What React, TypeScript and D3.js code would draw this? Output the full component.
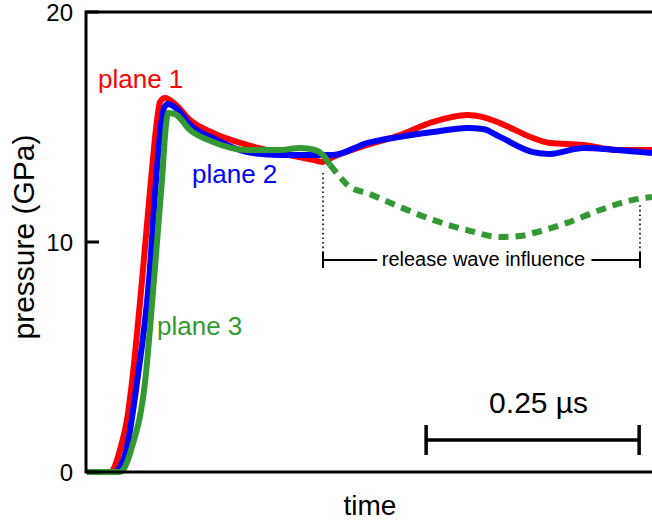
import React from "react";
import * as d3 from "d3";

// time in ns, pressure in GPa
const plane1: [number, number][] = [
  [0, 0], [27, 0], [30.5, 0.09], [38.7, 0.96], [46.9, 2.26], [52.8, 3.91], [64.6, 8.35],
  [75.1, 12.7], [82.2, 15.3], [85.7, 16.09], [91.5, 16.26], [103.3, 16.0], [120.9, 15.3],
  [147.9, 14.74], [187.8, 14.22], [226.5, 13.87], [265.3, 13.57], [275.8, 13.48], [288.7, 13.7],
  [328.6, 14.22], [367.4, 14.65], [406.1, 15.22], [446, 15.52], [464.8, 15.43], [484.7, 15.17],
  [523.5, 14.52], [543.4, 14.3], [582.2, 14.22], [622, 14.0], [663.1, 14.0],
];
const plane2: [number, number][] = [
  [0, 0], [32.9, 0], [36.4, 0.09], [46.9, 1.09], [58.7, 3.91], [72.8, 8.35], [81, 12.7],
  [86.9, 15.09], [90.4, 15.83], [95.1, 16.0], [106.8, 15.74], [120.9, 15.09], [147.9, 14.52],
  [187.8, 13.91], [226.5, 13.78], [265.3, 13.78], [288.7, 13.78], [328.6, 14.3], [367.4, 14.57],
  [406.1, 14.78], [446, 14.96], [464.8, 14.91], [484.7, 14.57], [523.5, 13.91], [543.4, 13.83],
  [582.2, 14.09], [622, 14.0], [663.1, 13.87],
];
const plane3Solid: [number, number][] = [
  [0, 0], [38.7, 0], [42.3, 0.09], [52.8, 1.09], [68.1, 3.91], [78.6, 8.35], [88, 12.7],
  [92.7, 15.09], [95.1, 15.61], [103.3, 15.56], [120.9, 14.87], [147.9, 14.35], [187.8, 14.0],
  [226.5, 14.0], [250, 14.09], [267.6, 14.0], [277, 13.78], [285.2, 13.35],
];
const plane3Dashed: [number, number][] = [
  [285.2, 13.35], [296.9, 12.83], [308.7, 12.39], [328.6, 12.13], [367.4, 11.52], [406.1, 10.96],
  [446, 10.52], [484.7, 10.22], [508.2, 10.26], [523.5, 10.39], [563.4, 10.83], [602.1, 11.39],
  [640.8, 11.83], [663.1, 11.96],
];
const yTicks = [0, 10, 20];
const releaseStart = 277;
const releaseEnd = 649;
const releaseTopLeft = 13.0;
const releaseTopRight = 11.6;
const releaseLevel = 9.22;
const scaleBarStart = 398;
const scaleBarLength = 250;
const scaleBarLevel = 1.39;

const W = 652;
const H = 525;
const left = 86;
const top = 12;
const bottom = 472;
const right = 652;

export default function App() {
  const x = d3.scaleLinear().domain([0, 663.1]).range([left + 1, right]);
  const y = d3.scaleLinear().domain([0, 20]).range([bottom, top]);
  const line = d3
    .line<[number, number]>()
    .x((d) => x(d[0]))
    .y((d) => y(d[1]))
    .curve(d3.curveMonotoneX);
  const font = "'Liberation Sans', Arial, sans-serif";
  const lw = 6;
  return (
    <svg
      width={W}
      height={H}
      style={{ position: "absolute", left: 0, top: 0, background: "#fff" }}
      fontFamily={font}
    >
      <path d={line(plane1) || ""} fill="none" stroke="#ff0000" strokeWidth={lw} strokeLinejoin="round" />
      <path d={line(plane2) || ""} fill="none" stroke="#0000ff" strokeWidth={lw} strokeLinejoin="round" />
      <path d={line(plane3Solid) || ""} fill="none" stroke="#339933" strokeWidth={lw} strokeLinejoin="round" />
      <path d={line(plane3Dashed) || ""} fill="none" stroke="#339933" strokeWidth={lw} strokeDasharray="10,7" />

      {/* axes */}
      <path
        d={`M${right},${top}H${left}V${bottom}H${right}`}
        fill="none"
        stroke="#000"
        strokeWidth={3}
      />
      {yTicks.map((t) => (
        <g key={t}>
          <line x1={left} x2={left + 13} y1={y(t)} y2={y(t)} stroke="#000" strokeWidth={3} />
          <text x={73} y={y(t)} dy="0.36em" textAnchor="end" fontSize={24}>
            {t}
          </text>
        </g>
      ))}
      <text
        transform={`translate(34,${(top + bottom) / 2 - 5}) rotate(-90)`}
        textAnchor="middle"
        fontSize={30}
      >
        pressure (GPa)
      </text>
      <text x={370} y={515} textAnchor="middle" fontSize={28}>
        time
      </text>

      {/* labels */}
      <text x={98} y={88} fontSize={26} fill="#ff0000">plane 1</text>
      <text x={192} y={183} fontSize={26} fill="#0000ff">plane 2</text>
      <text x={157} y={335} fontSize={26} fill="#339933">plane 3</text>

      {/* release wave bracket */}
      <line x1={x(releaseStart)} x2={x(releaseStart)} y1={y(releaseTopLeft)} y2={y(releaseLevel)} stroke="#000" strokeWidth={1.6} strokeDasharray="1.6,3" />
      <line x1={x(releaseEnd)} x2={x(releaseEnd)} y1={y(releaseTopRight)} y2={y(releaseLevel)} stroke="#000" strokeWidth={1.6} strokeDasharray="1.6,3" />
      <line x1={x(releaseStart)} x2={x(releaseEnd)} y1={y(releaseLevel)} y2={y(releaseLevel)} stroke="#000" strokeWidth={2} />
      <line x1={x(releaseStart)} x2={x(releaseStart)} y1={y(releaseLevel) - 8} y2={y(releaseLevel) + 8} stroke="#000" strokeWidth={2} />
      <line x1={x(releaseEnd)} x2={x(releaseEnd)} y1={y(releaseLevel) - 8} y2={y(releaseLevel) + 8} stroke="#000" strokeWidth={2} />
      <text
        x={(x(releaseStart) + x(releaseEnd)) / 2 + 2}
        y={y(releaseLevel) + 6}
        textAnchor="middle"
        fontSize={20}
        stroke="#fff"
        strokeWidth={12}
        style={{ paintOrder: "stroke" }}
        fill="#000"
      >
        release wave influence
      </text>

      {/* scale bar */}
      <line x1={x(scaleBarStart)} x2={x(scaleBarStart + scaleBarLength)} y1={y(scaleBarLevel)} y2={y(scaleBarLevel)} stroke="#000" strokeWidth={3.5} />
      <line x1={x(scaleBarStart)} x2={x(scaleBarStart)} y1={y(scaleBarLevel) - 15} y2={y(scaleBarLevel) + 15} stroke="#000" strokeWidth={3.5} />
      <line x1={x(scaleBarStart + scaleBarLength)} x2={x(scaleBarStart + scaleBarLength)} y1={y(scaleBarLevel) - 15} y2={y(scaleBarLevel) + 15} stroke="#000" strokeWidth={3.5} />
      <text x={(x(scaleBarStart) + x(scaleBarStart + scaleBarLength)) / 2 + 6} y={413} textAnchor="middle" fontSize={30}>
        0.25 µs
      </text>
    </svg>
  );
}
